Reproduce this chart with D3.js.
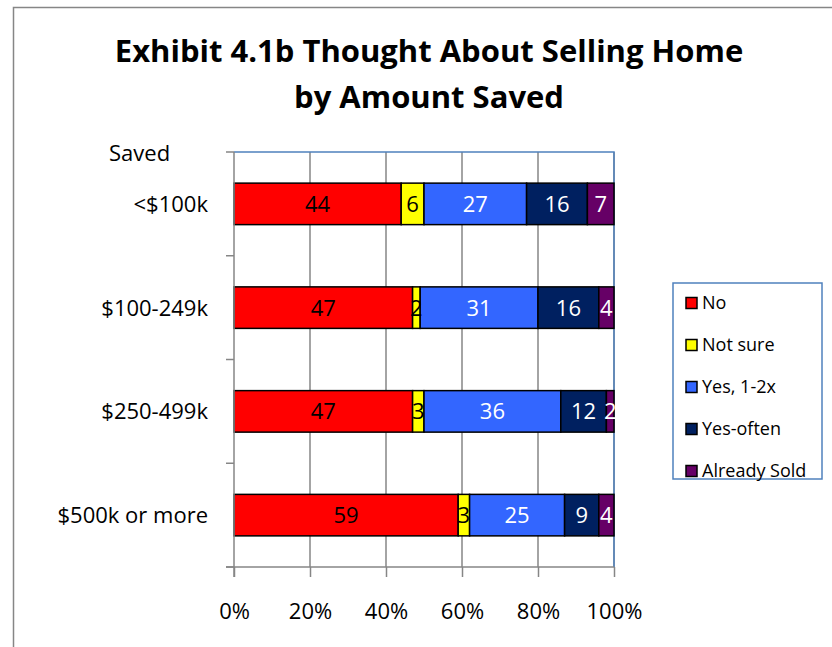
<!DOCTYPE html>
<html>
<head>
<meta charset="utf-8">
<script src="https://cdn.jsdelivr.net/npm/d3@7"></script>
<style>
  body { margin: 0; background: #fff; }
  svg { display: block; font-family: "Open Sans", sans-serif; }
</style>
</head>
<body>
<div id="chart"></div>
<script>
// Data
const categories = ["<$100k", "$100-249k", "$250-499k", "$500k or more"];
const seriesNames = ["No", "Not sure", "Yes, 1-2x", "Yes-often", "Already Sold"];
const seriesColors = ["#ff0000", "#ffff00", "#3366ff", "#002060", "#660066"];
const labelColors = ["#000", "#000", "#fff", "#fff", "#fff"];
const no = [44, 47, 47, 59];
const notSure = [6, 2, 3, 3];
const yes12 = [27, 31, 36, 25];
const yesOften = [16, 16, 12, 9];
const alreadySold = [7, 4, 2, 4];
const xTicks = [0, 20, 40, 60, 80, 100];

const width = 832, height = 647;
const svg = d3.select("#chart").append("svg")
  .attr("width", width).attr("height", height);

// Chart border
svg.append("rect")
  .attr("x", 13.5).attr("y", 7.5)
  .attr("width", 840).attr("height", 660)
  .attr("fill", "#fff").attr("stroke", "#868686").attr("stroke-width", 1.5);

// Title
svg.append("text")
  .attr("x", 429).attr("y", 62)
  .attr("text-anchor", "middle")
  .style("font-size", "31px").style("font-weight", "bold")
  .text("Exhibit 4.1b Thought About Selling Home");
svg.append("text")
  .attr("x", 429).attr("y", 108)
  .attr("text-anchor", "middle")
  .style("font-size", "31px").style("font-weight", "bold")
  .text("by Amount Saved");

const plot = { left: 234, right: 614, top: 152, bottom: 567 };

const x = d3.scaleLinear().domain([0, 100]).range([plot.left, plot.right]);
const y = d3.scaleBand().domain(categories)
  .range([plot.top, plot.bottom]).paddingInner(0.6).paddingOuter(0.3);

// Gridlines
svg.append("g").selectAll("line")
  .data(xTicks.slice(1))
  .enter().append("line")
  .attr("x1", (d) => x(d)).attr("x2", (d) => x(d))
  .attr("y1", plot.top).attr("y2", plot.bottom)
  .attr("stroke", "#868686").attr("stroke-width", 1.5);

// Plot area border (top and right)
svg.append("path")
  .attr("d", `M${plot.left},${plot.top}H${plot.right}V${plot.bottom}`)
  .attr("fill", "none").attr("stroke", "#4f81bd").attr("stroke-width", 1.5);

// Stacked data
const rows = categories.map((c, i) => {
  const vals = [no[i], notSure[i], yes12[i], yesOften[i], alreadySold[i]];
  let acc = 0;
  return vals.map((v, k) => {
    const seg = { cat: c, k: k, v: v, x0: acc, x1: acc + v };
    acc += v;
    return seg;
  });
});
const segs = rows.flat();

svg.append("g").selectAll("rect")
  .data(segs)
  .enter().append("rect")
  .attr("x", (d) => x(d.x0))
  .attr("y", (d) => y(d.cat))
  .attr("width", (d) => x(d.x1) - x(d.x0))
  .attr("height", y.bandwidth())
  .attr("fill", (d) => seriesColors[d.k])
  .attr("stroke", "#000").attr("stroke-width", 1.5);

svg.append("g").selectAll("text")
  .data(segs)
  .enter().append("text")
  .attr("x", (d) => x((d.x0 + d.x1) / 2))
  .attr("y", (d) => y(d.cat) + y.bandwidth() / 2)
  .attr("dy", "0.36em")
  .attr("text-anchor", "middle")
  .attr("fill", (d) => labelColors[d.k])
  .style("font-size", "22px")
  .text((d) => d.v);

// X axis
const xAxis = svg.append("g")
  .attr("transform", `translate(0,${plot.bottom})`)
  .call(d3.axisBottom(x).tickValues(xTicks).tickSize(10).tickPadding(26)
    .tickFormat((d) => d + "%"));
xAxis.select(".domain").attr("d", `M${plot.left - 8},0H${plot.right}`)
  .attr("stroke", "#868686").attr("stroke-width", 1.5);
xAxis.selectAll(".tick line").attr("stroke", "#868686").attr("stroke-width", 1.5);
xAxis.selectAll(".tick text")
  .style("font-size", "22px").style("font-family", "'Open Sans', sans-serif").attr("fill", "#000");

// Y axis: ticks at band boundaries
const yBounds = d3.range(categories.length + 1)
  .map((i) => plot.top + i * (plot.bottom - plot.top) / categories.length);
svg.append("line")
  .attr("x1", plot.left).attr("x2", plot.left)
  .attr("y1", plot.top).attr("y2", plot.bottom + 10)
  .attr("stroke", "#868686").attr("stroke-width", 1.5);
svg.append("g").selectAll("line")
  .data(yBounds)
  .enter().append("line")
  .attr("x1", plot.left - 8).attr("x2", plot.left)
  .attr("y1", (d) => d).attr("y2", (d) => d)
  .attr("stroke", "#868686").attr("stroke-width", 1.5);
svg.append("g").selectAll("text")
  .data(categories)
  .enter().append("text")
  .attr("x", 208)
  .attr("y", (d) => y(d) + y.bandwidth() / 2)
  .attr("dy", "0.36em")
  .attr("text-anchor", "end")
  .style("font-size", "22px")
  .text((d) => d);

svg.append("text")
  .attr("x", 109).attr("y", 161)
  .style("font-size", "22px")
  .text("Saved");

// Legend
const legend = svg.append("g");
legend.append("rect")
  .attr("x", 673).attr("y", 283)
  .attr("width", 149).attr("height", 196)
  .attr("fill", "#fff").attr("stroke", "#4f81bd").attr("stroke-width", 1.5);
const item = legend.selectAll("g.item")
  .data(seriesNames)
  .enter().append("g")
  .attr("class", "item")
  .attr("transform", (d, i) => `translate(686,${303 + i * 42})`);
item.append("rect")
  .attr("x", 0).attr("y", -5.5)
  .attr("width", 11).attr("height", 11)
  .attr("fill", (d, i) => seriesColors[i])
  .attr("stroke", "#000").attr("stroke-width", 1.5);
item.append("text")
  .attr("x", 16).attr("dy", "0.36em")
  .style("font-size", "18px")
  .text((d) => d);
</script>
</body>
</html>
